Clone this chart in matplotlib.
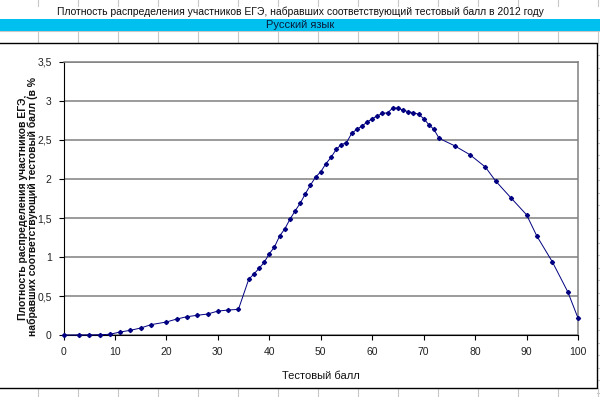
import matplotlib
matplotlib.use("Agg")
import matplotlib.pyplot as plt
from matplotlib.lines import Line2D
from matplotlib.patches import Rectangle

plt.rcParams['font.family'] = ['Liberation Sans', 'DejaVu Sans']

# ---- data ----
scores = [0, 3, 5, 7, 9, 11, 13, 15, 17, 20, 22, 24, 26, 28, 30, 32, 34,
          36, 37, 38, 39, 40, 41, 42, 43, 44, 45, 46, 47, 48, 49, 50, 51, 52,
          53, 54, 55, 56, 57, 58, 59, 60, 61, 62, 63, 64, 65, 66, 67, 68, 69,
          70, 71, 72, 73, 76, 79, 82, 84, 87, 90, 92, 95, 98, 100]
density = [0.003, 0.004, 0.005, 0.007, 0.013, 0.042, 0.064, 0.093, 0.136,
           0.17, 0.208, 0.238, 0.256, 0.272, 0.31, 0.323, 0.332,
           0.716, 0.784, 0.856, 0.933, 1.044, 1.129, 1.27, 1.36, 1.483,
           1.59, 1.688, 1.81, 1.922, 2.024, 2.092, 2.195, 2.276, 2.378,
           2.44, 2.463, 2.583, 2.634, 2.676, 2.727, 2.77, 2.808, 2.838,
           2.847, 2.907, 2.907, 2.88, 2.86, 2.848, 2.828, 2.772, 2.695,
           2.634, 2.52, 2.425, 2.31, 2.152, 1.973, 1.756, 1.542, 1.27,
           0.941, 0.558, 0.221]
yticks = [0, 0.5, 1, 1.5, 2, 2.5, 3, 3.5]
ytick_labels = ["0", "0,5", "1", "1,5", "2", "2,5", "3", "3,5"]
xticks = [0, 10, 20, 30, 40, 50, 60, 70, 80, 90, 100]

title = "Плотность распределения участников ЕГЭ, набравших соответствующий тестовый балл в 2012 году"
subtitle = "Русский язык"
ylabel = "Плотность распределения участников ЕГЭ,\nнабравших соответствующий тестовый балл (в %"
xlabel = "Тестовый балл"

W, H = 600, 397
fig = plt.figure(figsize=(W / 100, H / 100), dpi=100)
fig.patch.set_facecolor('white')


def fx(x):
    return x / W


def fy(y):
    return 1 - y / H


def hline(x0, x1, y, color, lw=0.8, z=0):
    fig.add_artist(Line2D([fx(x0), fx(x1)], [fy(y), fy(y)], color=color, lw=lw, zorder=z))


def vline(x, y0, y1, color, lw=0.8, z=0):
    fig.add_artist(Line2D([fx(x), fx(x)], [fy(y0), fy(y1)], color=color, lw=lw, zorder=z))


grid_c = '#C8C8C8'
cols = [38.2 + 40 * k for k in range(15)]

# spreadsheet cells
for x in cols:
    vline(x, 0, 6, grid_c)
    vline(x, 30.5, 43, grid_c)
    vline(x, 388, 397, grid_c)
hline(0, 600, 30.5, grid_c)
for y in [55, 67.5, 80] + [80 + 12.5 * k for k in range(1, 26)]:
    hline(597, 600, y, grid_c)

# cyan band
fig.add_artist(Rectangle((0, fy(30.5)), 1, (30.5 - 19) / H, transform=fig.transFigure,
                         facecolor='#00C0F0', edgecolor='none', zorder=1))
fig.text(0.5, fy(12), title, ha='center', va='center', fontsize=7.5, color='#111111')
fig.text(0.5, fy(24.8), subtitle, ha='center', va='center', fontsize=8, color='#0a1a3a')

# chart area border
fig.add_artist(Rectangle((fx(-2), fy(388)), fx(599), (388 - 43) / H, transform=fig.transFigure,
                         facecolor='white', edgecolor='#000000', lw=1.0, zorder=1))

# axes
ax = fig.add_axes([fx(63.5), fy(335.3), (578 - 63.5) / W, (335.3 - 61.7) / H])
ax.set_zorder(2)
ax.set_facecolor('white')
ax.plot(scores, density, color='#000080', lw=0.7, marker='D', markersize=2.1,
        markerfacecolor='#000080', markeredgecolor='#000080', zorder=3, clip_on=False)
ax.set_xlim(0, 100)
ax.set_ylim(0, 3.5)
ax.set_xticks(xticks)
ax.set_xticklabels([str(v) for v in xticks])
ax.set_yticks(yticks)
ax.set_yticklabels(ytick_labels)
ax.yaxis.grid(True, color='#808080', lw=1.1, zorder=0)
ax.set_axisbelow(True)
for s in ['top', 'right']:
    ax.spines[s].set_color('#808080')
    ax.spines[s].set_linewidth(1.1)
for s in ['left', 'bottom']:
    ax.spines[s].set_color('#000000')
    ax.spines[s].set_linewidth(0.8)
ax.tick_params(axis='both', direction='out', length=3.5, width=0.8, color='#000000',
               labelsize=7.5, labelcolor='#222222', pad=5)

fig.text(fx(321), fy(376), xlabel, ha='center', va='center', fontsize=8, color='#111111')
fig.text(fx(28), fy(207), ylabel, ha='center', va='center', rotation=90,
         fontsize=7.5, fontweight='bold', color='#111111', linespacing=1.05)

fig.savefig('out.png', dpi=100)
